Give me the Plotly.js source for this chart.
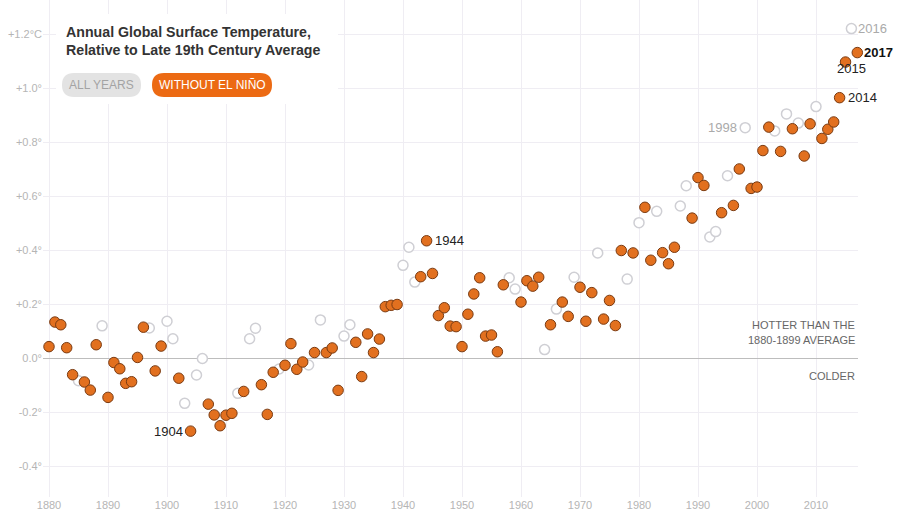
<!DOCTYPE html>
<html>
<head>
<meta charset="utf-8">
<script src="https://cdn.plot.ly/plotly-3.0.1.min.js"></script>
<style>html,body{margin:0;padding:0;background:#fff;}#chart{width:900px;height:512px;}</style>
</head>
<body>
<div id="chart"></div>
<script>
// Years not affected by El Niño (orange, filled)
const yearsWithout = [1880,1881,1882,1883,1884,1886,1887,1888,1890,1891,1892,1893,1894,1895,1896,1898,1899,1902,1904,1907,1908,1909,1910,1911,1913,1916,1917,1918,1920,1921,1922,1923,1925,1927,1928,1929,1932,1933,1934,1935,1936,1937,1938,1939,1943,1944,1945,1946,1947,1948,1949,1950,1951,1952,1953,1954,1955,1956,1957,1960,1961,1962,1963,1965,1967,1968,1970,1971,1972,1974,1975,1976,1977,1979,1981,1982,1984,1985,1986,1989,1990,1991,1994,1996,1997,1999,2000,2001,2002,2004,2006,2008,2009,2011,2012,2013,2014,2015,2017];
const valuesWithout = [0.044,0.135,0.125,0.040,-0.060,-0.087,-0.117,0.051,-0.144,-0.015,-0.038,-0.092,-0.086,0.004,0.116,-0.046,0.046,-0.073,-0.269,-0.169,-0.209,-0.249,-0.210,-0.203,-0.122,-0.097,-0.207,-0.051,-0.025,0.055,-0.040,-0.013,0.022,0.022,0.039,-0.118,0.060,-0.067,0.091,0.022,0.072,0.192,0.197,0.200,0.303,0.436,0.315,0.159,0.188,0.120,0.118,0.044,0.164,0.239,0.299,0.083,0.087,0.025,0.273,0.209,0.288,0.268,0.301,0.125,0.209,0.156,0.264,0.138,0.244,0.146,0.215,0.122,0.400,0.391,0.560,0.364,0.392,0.351,0.412,0.520,0.670,0.641,0.540,0.567,0.702,0.630,0.635,0.770,0.857,0.767,0.851,0.750,0.869,0.815,0.849,0.876,0.966,1.098,1.133];

// El Niño years (grey, hollow)
const yearsNino = [1885,1889,1897,1900,1901,1903,1905,1906,1912,1914,1915,1919,1924,1926,1930,1931,1940,1941,1942,1958,1959,1964,1966,1969,1973,1978,1980,1983,1987,1988,1992,1993,1995,1998,2003,2005,2007,2010,2016];
const valuesNino = [-0.082,0.121,0.113,0.138,0.073,-0.166,-0.061,0.000,-0.129,0.073,0.112,-0.039,-0.024,0.143,0.083,0.125,0.345,0.412,0.283,0.299,0.257,0.033,0.183,0.301,0.391,0.294,0.503,0.545,0.565,0.640,0.450,0.470,0.677,0.855,0.843,0.906,0.872,0.933,1.222];

// Axis ticks
const xTickVals = [1880,1890,1900,1910,1920,1930,1940,1950,1960,1970,1980,1990,2000,2010];
const yTickVals = [-0.4,-0.2,0,0.2,0.4,0.6,0.8,1.0,1.2];
const yTickText = ['-0.4°','-0.2°','0.0°','+0.2°','+0.4°','+0.6°','+0.8°','+1.0°','+1.2°C'];

// Labelled years
const labelYears = [1904,1944,1998,2014,2015,2016,2017];

const FONT = 'Liberation Sans, Arial, sans-serif';
const ORANGE = '#e2701f';
const W = 900, H = 512;
const M = {l:43, r:42, t:0, b:15};
const PW = W - M.l - M.r, PH = H - M.t - M.b;
const px = x => (x - M.l) / PW;
const py = y => (H - M.b - y) / PH;

function roundRect(x0, y0, x1, y1, r) {
  const rx = r / PW, ry = r / PH;
  const a = px(x0), b = px(x1), top = py(y0), bot = py(y1);
  return `M ${a+rx},${top} L ${b-rx},${top} Q ${b},${top} ${b},${top-ry} L ${b},${bot+ry} Q ${b},${bot} ${b-rx},${bot} L ${a+rx},${bot} Q ${a},${bot} ${a},${bot+ry} L ${a},${top-ry} Q ${a},${top} ${a+rx},${top} Z`;
}

function valueOf(year) {
  let i = yearsWithout.indexOf(year);
  if (i >= 0) return valuesWithout[i];
  i = yearsNino.indexOf(year);
  return valuesNino[i];
}

const traces = [
  {
    x: yearsNino, y: valuesNino, type: 'scatter', mode: 'markers', cliponaxis: false,
    marker: {size: 10, color: '#ffffff', line: {color: '#cfcfd4', width: 1.5}},
    hoverinfo: 'x+y'
  },
  {
    x: yearsWithout, y: valuesWithout, type: 'scatter', mode: 'markers', cliponaxis: false,
    marker: {size: 10.5, color: ORANGE, line: {color: '#7a3b12', width: 1}},
    hoverinfo: 'x+y'
  }
];

const labelStyle = {
  1904: {xanchor: 'right', xshift: -6, yshift: 0, color: '#222', bold: false},
  1944: {xanchor: 'left', xshift: 6, yshift: 0, color: '#222', bold: false},
  1998: {xanchor: 'right', xshift: -6, yshift: 0, color: '#aaaaaa', bold: false},
  2014: {xanchor: 'left', xshift: 6, yshift: 0, color: '#222', bold: false},
  2015: {xanchor: 'left', xshift: -11, yshift: -6, color: '#222', bold: false},
  2016: {xanchor: 'left', xshift: 5, yshift: 0, color: '#aaaaaa', bold: false},
  2017: {xanchor: 'left', xshift: 5, yshift: 0, color: '#111', bold: true}
};

const annotations = labelYears.map(yr => {
  const s = labelStyle[yr];
  return {
    x: yr, y: valueOf(yr), xref: 'x', yref: 'y', showarrow: false,
    text: s.bold ? '<b>' + yr + '</b>' : String(yr),
    xanchor: s.xanchor, yanchor: 'middle', xshift: s.xshift, yshift: s.yshift,
    font: {family: FONT, size: 13, color: s.color}
  };
});

annotations.push(
  {xref: 'paper', yref: 'paper', x: px(64), y: py(22), xanchor: 'left', yanchor: 'top', align: 'left', showarrow: false,
   text: '<b>Annual Global Surface Temperature,<br>Relative to Late 19th Century Average</b>',
   font: {family: FONT, size: 14.2, color: '#333'}},
  {xref: 'paper', yref: 'paper', x: px(101.5), y: py(85), xanchor: 'center', yanchor: 'middle', showarrow: false,
   text: 'ALL YEARS', font: {family: FONT, size: 12, color: '#a3a3a3'}},
  {xref: 'paper', yref: 'paper', x: px(212), y: py(85), xanchor: 'center', yanchor: 'middle', showarrow: false,
   text: 'WITHOUT EL NIÑO', font: {family: FONT, size: 12, color: '#ffffff'}},
  {xref: 'paper', yref: 'paper', x: px(857), y: py(325), xanchor: 'right', yanchor: 'middle', showarrow: false,
   text: 'HOTTER THAN THE', font: {family: FONT, size: 11, color: '#666'}},
  {xref: 'paper', yref: 'paper', x: px(857), y: py(340), xanchor: 'right', yanchor: 'middle', showarrow: false,
   text: '1880-1899 AVERAGE', font: {family: FONT, size: 11, color: '#666'}},
  {xref: 'paper', yref: 'paper', x: px(857), y: py(376), xanchor: 'right', yanchor: 'middle', showarrow: false,
   text: 'COLDER', font: {family: FONT, size: 11, color: '#666'}}
);

const shapes = [
  {type: 'rect', xref: 'paper', yref: 'paper', x0: px(56), x1: px(338), y0: py(104), y1: py(14),
   fillcolor: '#ffffff', line: {width: 0}, layer: 'above'},
  {type: 'path', xref: 'paper', yref: 'paper', path: roundRect(62, 73, 141, 97, 12),
   fillcolor: '#e3e3e3', line: {width: 0}, layer: 'above'},
  {type: 'path', xref: 'paper', yref: 'paper', path: roundRect(152, 73, 272, 97, 12),
   fillcolor: '#ec6a13', line: {width: 0}, layer: 'above'}
];

const layout = {
  width: W, height: H,
  margin: M,
  paper_bgcolor: '#ffffff', plot_bgcolor: '#ffffff',
  showlegend: false,
  font: {family: FONT},
  xaxis: {
    range: [1880 - 6/5.9, 1880 + (858 - 49)/5.9],
    tickvals: xTickVals, ticktext: xTickVals.map(String),
    showgrid: true, gridcolor: '#efedf3', gridwidth: 1,
    zeroline: false, showline: false, ticks: '',
    tickfont: {family: FONT, size: 11, color: '#b5b5b5'}
  },
  yaxis: {
    range: [(358.5 - 497)/270, 358.5/270],
    tickvals: yTickVals, ticktext: yTickText,
    showgrid: true, gridcolor: '#efedf3', gridwidth: 1,
    zeroline: true, zerolinecolor: '#bdbdbd', zerolinewidth: 1.5,
    showline: false, ticks: '',
    tickfont: {family: FONT, size: 11, color: '#b5b5b5'}
  },
  annotations: annotations,
  shapes: shapes
};

Plotly.newPlot('chart', traces, layout, {displayModeBar: false, staticPlot: true});
</script>
</body>
</html>
